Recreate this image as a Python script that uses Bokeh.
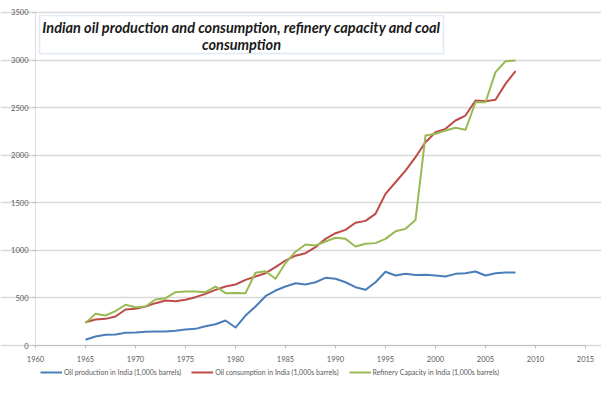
from bokeh.plotting import figure
from bokeh.models import (Range1d, FixedTicker, Legend, LegendItem, BoxAnnotation, Label)
from bokeh.embed import file_html
from bokeh.resources import INLINE

years = list(range(1965, 2009))
oil_production = [60, 95, 112, 115, 133, 137, 144, 147, 147, 154,
                  168, 175, 203, 224, 263, 189, 315, 410, 518, 578,
                  620, 655, 641, 665, 711, 701, 665, 613, 585, 665,
                  775, 736, 753, 740, 743, 736, 725, 753, 760, 778,
                  736, 760, 767, 767]
oil_consumption = [245, 273, 280, 305, 378, 385, 410, 445, 473, 466,
                   480, 508, 543, 585, 620, 641, 690, 725, 760, 823,
                   893, 944, 970, 1033, 1121, 1180, 1215, 1290, 1310, 1384,
                   1594, 1716, 1839, 1979, 2137, 2242, 2277, 2365, 2417, 2575,
                   2568, 2582, 2750, 2883]
refinery_capacity = [235, 333, 315, 361, 428, 403, 410, 483, 497, 560,
                     568, 568, 560, 620, 550, 553, 550, 765, 780, 701,
                     868, 985, 1062, 1051, 1093, 1132, 1121, 1040, 1069, 1076,
                     1121, 1200, 1226, 1320, 2207, 2225, 2260, 2288, 2267, 2557,
                     2557, 2873, 2988, 2995]

series_names = ["Oil production in India (1,000s barrels)",
                "Oil consumption in India (1,000s barrels)",
                "Refinery Capacity in India (1,000s barrels)"]
series_colors = ["#4a7ebb", "#be4b48", "#98b954"]
x_ticks = [1960, 1965, 1970, 1975, 1980, 1985, 1990, 1995, 2000, 2005, 2010, 2015]
y_ticks = [0, 500, 1000, 1500, 2000, 2500, 3000, 3500]
title_lines = ["Indian oil production and consumption, refinery capacity and coal",
               "consumption"]

# the frame fills the whole canvas; axes are pinned at 1960 / 0 inside it
p = figure(width=601, height=393, output_backend="svg", toolbar_location=None,
           x_range=Range1d(1956.5, 2016.6), y_range=Range1d(-504.5, 3626.1),
           min_border_left=0, min_border_right=0, min_border_top=0, min_border_bottom=0)
p.outline_line_color = None
p.background_fill_color = "white"
p.border_fill_color = "white"

p.xgrid.grid_line_color = None
p.ygrid.grid_line_color = "#d9d9d9"
p.ygrid.grid_line_width = 1.5
p.ygrid.bounds = (1960, 2015)

for ax in (p.xaxis[0], p.yaxis[0]):
    ax.axis_line_color = "#bfbfbf"
    ax.major_tick_line_color = "#bfbfbf"
    ax.minor_tick_line_color = None
    ax.major_tick_in = 0
    ax.major_tick_out = 3
    ax.major_label_text_color = "#595959"
    ax.major_label_text_font = "Lato"
    ax.major_label_text_font_size = "7.5px"
p.xaxis[0].ticker = FixedTicker(ticks=x_ticks)
p.yaxis[0].ticker = FixedTicker(ticks=y_ticks)
p.xaxis[0].major_label_standoff = 7
p.yaxis[0].major_label_standoff = 4
p.xaxis[0].fixed_location = 0
p.yaxis[0].fixed_location = 1960
p.xaxis[0].bounds = (1960, 2015)
p.yaxis[0].axis_line_color = None

# value-axis line from 0 to top
p.add_layout(BoxAnnotation(left=1960, right=1960, bottom=0, top=3500,
                           fill_alpha=0, line_color="#bfbfbf", line_width=1))

renderers = []
for vals, col in zip([oil_production, oil_consumption, refinery_capacity], series_colors):
    r = p.line(years, vals, line_color=col, line_width=2.0, line_join="round")
    renderers.append(r)

box = BoxAnnotation(left=1960.4, right=2000.8, top=3468, bottom=3069,
                    fill_color="white", fill_alpha=1.0,
                    line_color="#9dbbdc", line_width=1.5, level="overlay")
p.add_layout(box)
for txt, yv in zip(title_lines, [3342, 3164]):
    p.add_layout(Label(x=1980.6, y=yv, text=txt, text_align="center", text_baseline="middle",
                       text_font="Lato", text_font_size="14.5px", text_font_style="bold italic",
                       text_color="#1a1a1a", level="overlay"))

legend = Legend(items=[LegendItem(label=n, renderers=[r]) for n, r in zip(series_names, renderers)],
                orientation="horizontal", location=(40, 17),
                label_text_font="Lato", label_text_font_size="7px", label_text_color="#595959",
                glyph_width=22, glyph_height=8, label_height=9, label_standoff=2, spacing=10,
                padding=2, margin=0, border_line_color=None, background_fill_alpha=0)
p.add_layout(legend, "center")

html = file_html(p, INLINE)
open("out.html", "w").write(html)
